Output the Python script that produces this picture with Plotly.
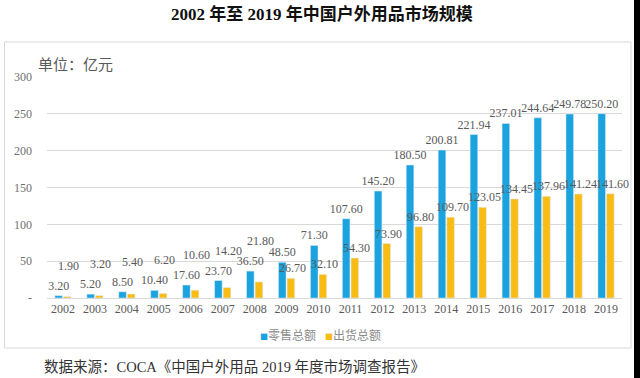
import plotly.graph_objects as go

years = [str(y) for y in range(2002, 2020)]
retail = [3.20, 5.20, 8.50, 10.40, 17.60, 23.70, 36.50, 48.50, 71.30, 107.60,
          145.20, 180.50, 200.81, 221.94, 237.01, 244.64, 249.78, 250.20]
shipment = [1.90, 3.20, 5.40, 6.20, 10.60, 14.20, 21.80, 26.70, 32.10, 54.30,
            73.90, 96.80, 109.70, 123.05, 134.45, 137.96, 141.24, 141.60]
series_names = ["零售总额", "出货总额"]
ytick_vals = [0, 50, 100, 150, 200, 250, 300]
ytick_text = ["-", "50", "100", "150", "200", "250", "300"]

BLUE = "#1AA3DE"
YELLOW = "#F9BC15"
W, H = 640, 378
L, R, T, B = 47, 622, 77, 298  # plot area in pixels


def px(x):
    return (x - L) / (R - L)


def py(y):
    return (B - y) / (B - T)


SERIF = "Liberation Serif, Times New Roman, serif"
CJK = "Noto Sans CJK SC, sans-serif"

fig = go.Figure()
fig.add_trace(go.Bar(
    x=years, y=retail, name=series_names[0], marker_color=BLUE,
    text=[f"{v:.2f}" for v in retail], textposition="outside",
    constraintext="none", cliponaxis=False,
    textfont=dict(family=SERIF, size=12, color="#595959"),
))
fig.add_trace(go.Bar(
    x=years, y=shipment, name=series_names[1], marker_color=YELLOW,
))

annotations = []
for i, (b, s) in enumerate(zip(retail, shipment)):
    crowded = (b - s) < 20
    annotations.append(dict(
        x=i, y=b if crowded else s, xref="x", yref="y",
        text=f"{s:.2f}", showarrow=False, xshift=6,
        yshift=30 if crowded else 10,
        font=dict(family=SERIF, size=12, color="#595959"),
    ))

annotations.append(dict(
    x=px(322), y=py(14), xref="paper", yref="paper",
    text="<b>2002 年至 2019 年中国户外用品市场规模</b>", showarrow=False,
    font=dict(family="Liberation Serif, Noto Sans CJK SC", size=17, color="#111111"),
    xanchor="center", yanchor="middle",
))
annotations.append(dict(
    x=px(36), y=py(63), xref="paper", yref="paper",
    text="单位：亿元", showarrow=False,
    font=dict(family=CJK, size=15, color="#595959"),
    xanchor="left", yanchor="middle",
))
annotations.append(dict(
    x=px(42), y=py(367), xref="paper", yref="paper",
    text="数据来源：COCA《中国户外用品 2019 年度市场调查报告》", showarrow=False,
    font=dict(family="Liberation Serif, Noto Sans CJK SC", size=14.5, color="#333333"),
    xanchor="left", yanchor="middle",
))
# legend entries
for name, color, xpos in [(series_names[0], BLUE, 258), (series_names[1], YELLOW, 323)]:
    annotations.append(dict(
        x=px(xpos), y=py(334), xref="paper", yref="paper",
        text=f"<span style='color:{color};font-size:8px'>■</span>{name}",
        showarrow=False, xanchor="left", yanchor="middle",
        font=dict(family=CJK, size=12, color="#8c8c8c"),
    ))

shapes = [
    dict(type="rect", xref="paper", yref="paper",
         x0=px(4.5), x1=px(631), y0=py(42), y1=py(348),
         line=dict(color="#d9d9d9", width=1), fillcolor="rgba(0,0,0,0)", layer="below"),
    dict(type="rect", xref="paper", yref="paper",
         x0=px(634), x1=px(641), y0=py(-1), y1=py(379),
         line=dict(width=0), fillcolor="#000000"),
]

fig.update_layout(
    width=W, height=H,
    margin=dict(l=L, r=W - R, t=T, b=H - B, autoexpand=False),
    paper_bgcolor="white", plot_bgcolor="white",
    barmode="group", bargap=0.46, bargroupgap=0.12,
    annotations=annotations, shapes=shapes,
    showlegend=False,
)
fig.update_xaxes(
    type="category", range=[-0.5, len(years) - 0.5], automargin=False,
    showgrid=False, showline=True, linecolor="#d9d9d9", linewidth=1,
    ticks="", tickfont=dict(family=SERIF, size=12, color="#595959"),
)
fig.update_yaxes(
    range=[0, 300], tickvals=ytick_vals, ticktext=ytick_text, automargin=False,
    showgrid=True, gridcolor="#d9d9d9", gridwidth=1, zeroline=False,
    ticks="", ticklabelstandoff=14,
    tickfont=dict(family=SERIF, size=12, color="#6f6f6f"),
)

fig.write_html("out.html", config={"displayModeBar": False},
               post_script="document.body.style.margin='0';")
